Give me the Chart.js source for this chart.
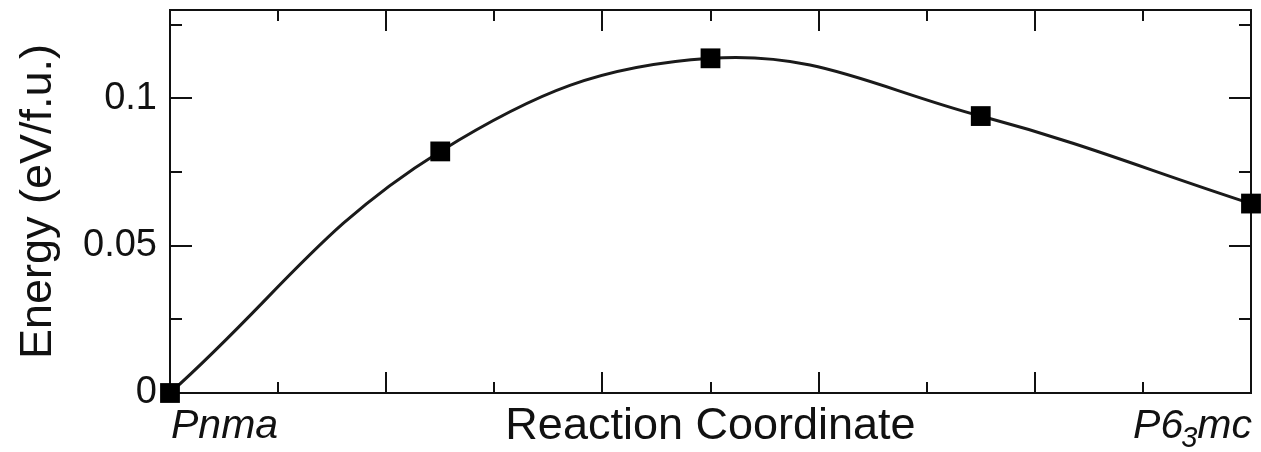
<!DOCTYPE html>
<html>
<head>
<meta charset="utf-8">
<script src="https://cdn.jsdelivr.net/npm/chart.js@4/dist/chart.umd.min.js"></script>
<style>
  html, body { margin: 0; padding: 0; background: #fff; }
  canvas { display: block; }
</style>
</head>
<body>
<canvas id="energyChart" width="1261" height="452"></canvas>
<script>
// energy along the Pnma -> P6_3mc transition path
const coords = [0, 0.25, 0.5, 0.75, 1];
const energies = [0, 0.082, 0.1136, 0.094, 0.0643];

const xTicks = [0, 0.1, 0.2, 0.3, 0.4, 0.5, 0.6, 0.7, 0.8, 0.9, 1];
const xEndValues = [0, 1];
const xEndLabels = ['Pnma', 'P6_3mc']; // "_3" is drawn as a subscript 3

const yTicks = [0, 0.025, 0.05, 0.075, 0.1, 0.125];
const yLabels = ['0', '', '0.05', '', '0.1', ''];

const FONT = '"Liberation Sans", Arial, Helvetica, sans-serif';
const INK = '#111';

// box around the plot with inward ticks on all four sides (long ones on even steps)
const framePlugin = {
  id: 'frame',
  beforeDatasetsDraw(chart) {
    const { ctx, chartArea: a, scales: { x, y } } = chart;
    ctx.save();
    ctx.strokeStyle = INK;
    ctx.lineWidth = 2;
    ctx.strokeRect(a.left, a.top, a.right - a.left, a.bottom - a.top);
    ctx.beginPath();
    x.ticks.forEach((t, i) => {
      const px = Math.round(x.getPixelForValue(t.value));
      const len = i % 2 === 0 ? 21 : 11;
      ctx.moveTo(px, a.bottom); ctx.lineTo(px, a.bottom - len);
      ctx.moveTo(px, a.top); ctx.lineTo(px, a.top + len);
    });
    y.ticks.forEach((t, i) => {
      const py = Math.round(y.getPixelForValue(t.value));
      const len = i % 2 === 0 ? 22 : 12;
      ctx.moveTo(a.left, py); ctx.lineTo(a.left + len, py);
      ctx.moveTo(a.right, py); ctx.lineTo(a.right - len, py);
    });
    ctx.stroke();
    ctx.restore();
  },
  afterDraw(chart) {
    const { ctx, scales: { x } } = chart;
    const main = 'italic 41px ' + FONT;
    const small = 'italic 29px ' + FONT;
    const baseline = 438;
    ctx.save();
    ctx.fillStyle = INK;
    ctx.textBaseline = 'alphabetic';
    ctx.textAlign = 'left';
    xEndValues.forEach((v, i) => {
      const [head, tail = ''] = xEndLabels[i].split('_');
      const sub = tail.slice(0, 1);
      const rest = tail.slice(1);
      ctx.font = main;
      const wHead = ctx.measureText(head).width;
      const wRest = ctx.measureText(rest).width;
      ctx.font = small;
      const wSub = ctx.measureText(sub).width;
      const total = wHead + wSub + wRest;
      const px = x.getPixelForValue(v);
      let left = i === 0 ? px + 1 : px - total + 3;
      ctx.font = main;
      ctx.fillText(head, left, baseline);
      left += wHead;
      if (sub) {
        ctx.font = small;
        ctx.fillText(sub, left - 2, baseline + 9);
        left += wSub - 2;
      }
      ctx.font = main;
      ctx.fillText(rest, left, baseline);
    });
    ctx.restore();
  }
};

new Chart(document.getElementById('energyChart'), {
  type: 'line',
  data: {
    datasets: [{
      data: coords.map((c, i) => ({ x: c, y: energies[i] })),
      borderColor: '#1a1a1a',
      borderWidth: 3,
      tension: 0.4,
      pointStyle: 'rect',
      pointRadius: 14,
      pointBackgroundColor: '#000',
      pointBorderWidth: 0,
      clip: false
    }]
  },
  options: {
    responsive: false,
    animation: false,
    layout: { autoPadding: false, padding: { top: 10, right: 10, left: 0, bottom: 0 } },
    plugins: {
      legend: { display: false },
      tooltip: { enabled: false }
    },
    scales: {
      x: {
        type: 'linear',
        min: 0,
        max: 1,
        afterBuildTicks: s => { s.ticks = xTicks.map(v => ({ value: v })); },
        afterFit: s => {
          s.height = 59;
          s.paddingLeft = 0;
          s.paddingRight = 0;
        },
        grid: { display: false, drawTicks: false, tickLength: 0 },
        border: { display: false },
        ticks: { display: false },
        title: {
          display: true,
          text: 'Reaction Coordinate',
          color: INK,
          font: { family: FONT, size: 45, lineHeight: 1 },
          padding: { top: 0, bottom: 3 }
        }
      },
      y: {
        min: 0,
        max: 0.13,
        afterBuildTicks: s => { s.ticks = yTicks.map(v => ({ value: v })); },
        afterFit: s => {
          s.width = 170;
          s.paddingTop = 0;
          s.paddingBottom = 0;
        },
        grid: { display: false, drawTicks: false, tickLength: 0 },
        border: { display: false },
        ticks: {
          autoSkip: false,
          callback: (v, i) => yLabels[i],
          color: INK,
          font: { family: FONT, size: 38 },
          padding: 13
        },
        title: {
          display: true,
          text: 'Energy (eV/f.u.)',
          color: INK,
          font: { family: FONT, size: 45, lineHeight: 1 },
          padding: { top: 16, bottom: 0 }
        }
      }
    }
  },
  plugins: [framePlugin]
});
</script>
</body>
</html>
